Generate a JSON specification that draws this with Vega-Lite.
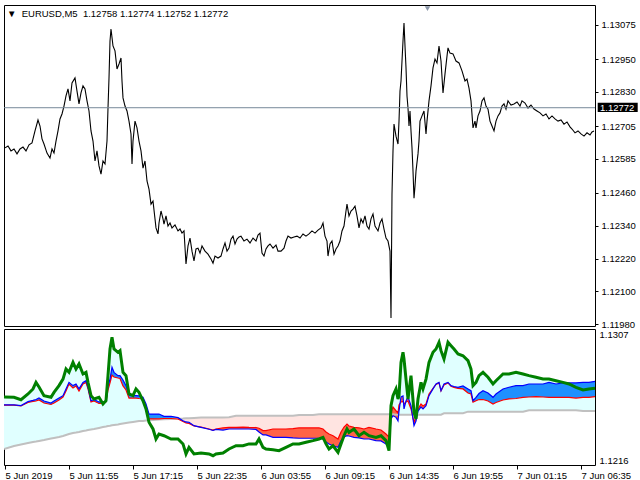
{
"$schema": "https://vega.github.io/schema/vega-lite/v6.json",
"background": "white",
"padding": {"left": 3, "top": 4, "right": 0, "bottom": 0},
"spacing": 3,
"bounds": "flush",
"config": {
  "view": {"stroke": "black", "strokeWidth": 1},
  "font": "Liberation Sans",
  "axis": {"labelFont": "Liberation Sans", "labelFontSize": 9.5, "labelColor": "black", "grid": false, "domain": false, "tickColor": "black", "labelOverlap": false}
},
"datasets": {
"bid": [{"p": 1.12772}],
"price": [
{"i":0,"p":1.12625},{"i":3,"p":1.12632},{"i":6,"p":1.12614},{"i":9,"p":1.12621},{"i":12,"p":1.12603},{"i":15,"p":1.12621},{"i":18,"p":1.12628},{"i":21,"p":1.12614},{"i":24,"p":1.12636},{"i":27,"p":1.12643},
{"i":30,"p":1.12687},{"i":33,"p":1.12727},{"i":35,"p":1.12705},{"i":37,"p":1.12658},{"i":39,"p":1.12639},{"i":42,"p":1.12606},{"i":45,"p":1.12588},{"i":47,"p":1.12621},{"i":49,"p":1.12606},{"i":51,"p":1.1265},
{"i":53,"p":1.12687},{"i":55,"p":1.12731},{"i":57,"p":1.12749},{"i":59,"p":1.12778},{"i":61,"p":1.12815},{"i":63,"p":1.12841},{"i":65,"p":1.12797},{"i":67,"p":1.12863},{"i":70,"p":1.12881},{"i":72,"p":1.12833},
{"i":74,"p":1.12786},{"i":76,"p":1.12826},{"i":78,"p":1.12852},{"i":80,"p":1.12841},{"i":82,"p":1.12797},{"i":84,"p":1.1276},{"i":86,"p":1.12687},{"i":88,"p":1.1265},{"i":90,"p":1.12577},{"i":92,"p":1.12614},
{"i":94,"p":1.12559},{"i":96,"p":1.12529},{"i":98,"p":1.12577},{"i":100,"p":1.12566},{"i":102,"p":1.1265},{"i":103,"p":1.12771},{"i":104,"p":1.12881},{"i":105,"p":1.13016},{"i":106,"p":1.1306},{"i":108,"p":1.12998},
{"i":110,"p":1.1298},{"i":112,"p":1.12914},{"i":114,"p":1.12932},{"i":116,"p":1.12954},{"i":117,"p":1.1287},{"i":118,"p":1.12808},{"i":120,"p":1.12778},{"i":122,"p":1.1276},{"i":124,"p":1.12723},{"i":126,"p":1.12676},
{"i":127,"p":1.12566},{"i":128,"p":1.1265},{"i":130,"p":1.12723},{"i":132,"p":1.12698},{"i":134,"p":1.1265},{"i":136,"p":1.12614},{"i":138,"p":1.12551},{"i":140,"p":1.12577},{"i":142,"p":1.12504},{"i":144,"p":1.12474},
{"i":146,"p":1.12419},{"i":148,"p":1.1243},{"i":150,"p":1.12365},{"i":151,"p":1.12332},{"i":153,"p":1.1231},{"i":154,"p":1.1235},{"i":156,"p":1.12394},{"i":158,"p":1.12365},{"i":159,"p":1.12346},{"i":161,"p":1.12376},
{"i":163,"p":1.12339},{"i":165,"p":1.1235},{"i":167,"p":1.12332},{"i":170,"p":1.12343},{"i":173,"p":1.12321},{"i":175,"p":1.12328},{"i":177,"p":1.12313},{"i":179,"p":1.12321},{"i":181,"p":1.122},{"i":183,"p":1.12266},
{"i":185,"p":1.12295},{"i":187,"p":1.12247},{"i":189,"p":1.12211},{"i":191,"p":1.12255},{"i":193,"p":1.12258},{"i":195,"p":1.1224},{"i":197,"p":1.12266},{"i":200,"p":1.12247},{"i":203,"p":1.12236},{"i":206,"p":1.12218},
{"i":208,"p":1.12203},{"i":210,"p":1.12229},{"i":213,"p":1.12222},{"i":216,"p":1.12229},{"i":218,"p":1.12255},{"i":220,"p":1.12277},{"i":222,"p":1.12247},{"i":224,"p":1.12258},{"i":226,"p":1.12291},{"i":228,"p":1.12302},
{"i":230,"p":1.12273},{"i":232,"p":1.12291},{"i":234,"p":1.12299},{"i":236,"p":1.12302},{"i":239,"p":1.12284},{"i":242,"p":1.12291},{"i":245,"p":1.12277},{"i":248,"p":1.12295},{"i":251,"p":1.12284},{"i":253,"p":1.12306},
{"i":255,"p":1.12313},{"i":257,"p":1.1224},{"i":259,"p":1.12229},{"i":261,"p":1.12255},{"i":263,"p":1.12266},{"i":265,"p":1.12273},{"i":268,"p":1.12258},{"i":271,"p":1.12269},{"i":273,"p":1.12247},{"i":276,"p":1.12247},
{"i":279,"p":1.12258},{"i":281,"p":1.12284},{"i":283,"p":1.12302},{"i":286,"p":1.12295},{"i":289,"p":1.12299},{"i":292,"p":1.12302},{"i":295,"p":1.12295},{"i":298,"p":1.1231},{"i":301,"p":1.12302},{"i":304,"p":1.1231},
{"i":307,"p":1.12321},{"i":310,"p":1.12313},{"i":313,"p":1.12324},{"i":316,"p":1.12332},{"i":318,"p":1.1235},{"i":320,"p":1.12302},{"i":322,"p":1.12284},{"i":323,"p":1.12229},{"i":325,"p":1.12273},{"i":327,"p":1.12284},
{"i":329,"p":1.12236},{"i":331,"p":1.12255},{"i":333,"p":1.12266},{"i":335,"p":1.12284},{"i":337,"p":1.12321},{"i":339,"p":1.12339},{"i":341,"p":1.12394},{"i":342,"p":1.12419},{"i":344,"p":1.12376},{"i":346,"p":1.12394},
{"i":348,"p":1.12401},{"i":350,"p":1.12412},{"i":352,"p":1.12376},{"i":354,"p":1.12332},{"i":356,"p":1.12365},{"i":358,"p":1.1235},{"i":360,"p":1.12376},{"i":362,"p":1.12339},{"i":364,"p":1.12328},{"i":366,"p":1.12365},
{"i":368,"p":1.12383},{"i":370,"p":1.12339},{"i":373,"p":1.12321},{"i":375,"p":1.1235},{"i":377,"p":1.12365},{"i":379,"p":1.12328},{"i":381,"p":1.12295},{"i":383,"p":1.12284},{"i":385,"p":1.12247},{"i":386,"p":1.12002},
{"i":387,"p":1.12456},{"i":388,"p":1.12614},{"i":389,"p":1.12712},{"i":391,"p":1.12668},{"i":393,"p":1.12639},{"i":394,"p":1.12723},{"i":395,"p":1.12833},{"i":396,"p":1.1287},{"i":397,"p":1.12943},{"i":398,"p":1.13016},
{"i":399,"p":1.13082},{"i":400,"p":1.12998},{"i":401,"p":1.12918},{"i":402,"p":1.12815},{"i":403,"p":1.12771},{"i":404,"p":1.12705},{"i":405,"p":1.1276},{"i":406,"p":1.12687},{"i":407,"p":1.12625},{"i":408,"p":1.1254},
{"i":409,"p":1.12441},{"i":410,"p":1.12485},{"i":411,"p":1.1254},{"i":413,"p":1.12603},{"i":414,"p":1.1265},{"i":415,"p":1.12723},{"i":417,"p":1.12742},{"i":419,"p":1.1276},{"i":421,"p":1.12676},{"i":422,"p":1.12723},
{"i":424,"p":1.12797},{"i":426,"p":1.12852},{"i":428,"p":1.12918},{"i":430,"p":1.1295},{"i":432,"p":1.12936},{"i":434,"p":1.12998},{"i":436,"p":1.12943},{"i":438,"p":1.12826},{"i":440,"p":1.12896},{"i":442,"p":1.12961},
{"i":443,"p":1.12991},{"i":445,"p":1.12972},{"i":448,"p":1.12969},{"i":451,"p":1.12943},{"i":454,"p":1.12936},{"i":457,"p":1.12907},{"i":460,"p":1.1287},{"i":462,"p":1.12877},{"i":464,"p":1.12844},{"i":466,"p":1.12797},
{"i":468,"p":1.12698},{"i":470,"p":1.12723},{"i":471,"p":1.12698},{"i":473,"p":1.12742},{"i":475,"p":1.1276},{"i":477,"p":1.12797},{"i":479,"p":1.12808},{"i":481,"p":1.12778},{"i":483,"p":1.12767},{"i":485,"p":1.12723},
{"i":487,"p":1.12705},{"i":489,"p":1.12687},{"i":491,"p":1.12723},{"i":493,"p":1.12742},{"i":495,"p":1.12753},{"i":497,"p":1.12778},{"i":499,"p":1.12786},{"i":501,"p":1.12767},{"i":503,"p":1.12797},{"i":506,"p":1.12782},
{"i":509,"p":1.12786},{"i":512,"p":1.12793},{"i":515,"p":1.12778},{"i":517,"p":1.12797},{"i":520,"p":1.12789},{"i":523,"p":1.12771},{"i":526,"p":1.12782},{"i":529,"p":1.12767},{"i":532,"p":1.1276},{"i":535,"p":1.12753},
{"i":538,"p":1.12742},{"i":541,"p":1.12749},{"i":544,"p":1.12731},{"i":547,"p":1.12742},{"i":550,"p":1.12731},{"i":553,"p":1.12723},{"i":556,"p":1.12727},{"i":559,"p":1.12712},{"i":562,"p":1.1272},{"i":565,"p":1.12702},
{"i":567,"p":1.12694},{"i":570,"p":1.1268},{"i":573,"p":1.12687},{"i":576,"p":1.12676},{"i":579,"p":1.12668},{"i":582,"p":1.1268},{"i":585,"p":1.12672},{"i":587,"p":1.12683},{"i":589,"p":1.12687}
],
"ind": [
{"i":-1,"g":1.12615,"b":1.12562,"r":1.1256,"s":1.12267,"cz":"C1","bz":"B1"},
{"i":9,"g":1.12613,"b":1.12562,"r":1.1256,"s":1.12287,"cz":"C1","bz":"B1"},
{"i":16,"g":1.12597,"b":1.12558,"r":1.12555,"s":1.12297,"cz":"C1","bz":"B1"},
{"i":23,"g":1.12635,"b":1.12584,"r":1.12578,"s":1.12307,"cz":"C1","bz":"B1"},
{"i":28,"g":1.12669,"b":1.12592,"r":1.12585,"s":1.12314,"cz":"C1","bz":"B1"},
{"i":31,"g":1.12713,"b":1.12598,"r":1.12588,"s":1.12317,"cz":"C1","bz":"B1"},
{"i":34,"g":1.12682,"b":1.12608,"r":1.12595,"s":1.12321,"cz":"C1","bz":"B1"},
{"i":39,"g":1.12624,"b":1.12588,"r":1.12575,"s":1.12327,"cz":"C1","bz":"B1"},
{"i":46,"g":1.12613,"b":1.12575,"r":1.12565,"s":1.12337,"cz":"C1","bz":"B1"},
{"i":49,"g":1.12646,"b":1.12588,"r":1.12575,"s":1.12341,"cz":"C1","bz":"B1"},
{"i":54,"g":1.12691,"b":1.12608,"r":1.12595,"s":1.12347,"cz":"C1","bz":"B1"},
{"i":58,"g":1.12735,"b":1.12624,"r":1.12615,"s":1.12354,"cz":"C1","bz":"B1"},
{"i":61,"g":1.12802,"b":1.12669,"r":1.12655,"s":1.12361,"cz":"C1","bz":"B1"},
{"i":64,"g":1.1278,"b":1.12713,"r":1.12702,"s":1.12367,"cz":"C1","bz":"B1"},
{"i":68,"g":1.12847,"b":1.12691,"r":1.12675,"s":1.12374,"cz":"C1","bz":"B1"},
{"i":71,"g":1.12802,"b":1.12702,"r":1.12689,"s":1.12377,"cz":"C1","bz":"B1"},
{"i":74,"g":1.12836,"b":1.12669,"r":1.12655,"s":1.12381,"cz":"C1","bz":"B1"},
{"i":78,"g":1.12769,"b":1.12713,"r":1.12702,"s":1.12388,"cz":"C1","bz":"B1"},
{"i":81,"g":1.1278,"b":1.12724,"r":1.12712,"s":1.12391,"cz":"C1","bz":"B1"},
{"i":83,"g":1.12713,"b":1.1268,"r":1.12669,"s":1.12394,"cz":"C1","bz":"B1"},
{"i":86,"g":1.12624,"b":1.1259,"r":1.12582,"s":1.12398,"cz":"C1","bz":"B1"},
{"i":89,"g":1.12602,"b":1.12598,"r":1.12588,"s":1.12401,"cz":"C1","bz":"B1"},
{"i":94,"g":1.12613,"b":1.12582,"r":1.12572,"s":1.12408,"cz":"C1","bz":"B1"},
{"i":98,"g":1.12568,"b":1.1258,"r":1.12572,"s":1.12414,"cz":"C1","bz":"B1"},
{"i":101,"g":1.1259,"b":1.1259,"r":1.12582,"s":1.12418,"cz":"C1","bz":"B1"},
{"i":103,"g":1.12758,"b":1.12689,"r":1.12662,"s":1.12421,"cz":"C1","bz":"B1"},
{"i":105,"g":1.12936,"b":1.12735,"r":1.12709,"s":1.12423,"cz":"C1","bz":"B1"},
{"i":107,"g":1.13015,"b":1.12814,"r":1.12762,"s":1.12426,"cz":"C1","bz":"B1"},
{"i":109,"g":1.12936,"b":1.1278,"r":1.12749,"s":1.12428,"cz":"C1","bz":"B1"},
{"i":113,"g":1.12914,"b":1.12758,"r":1.12742,"s":1.12431,"cz":"C1","bz":"B1"},
{"i":115,"g":1.12925,"b":1.12758,"r":1.12739,"s":1.12434,"cz":"C1","bz":"B1"},
{"i":118,"g":1.1278,"b":1.12729,"r":1.12689,"s":1.12438,"cz":"C1","bz":"B1"},
{"i":121,"g":1.12758,"b":1.12691,"r":1.12662,"s":1.12441,"cz":"C1","bz":"B1"},
{"i":124,"g":1.12635,"b":1.12628,"r":1.12608,"s":1.12444,"cz":"C1","bz":"B1"},
{"i":128,"g":1.12624,"b":1.12624,"r":1.12608,"s":1.12448,"cz":"C1","bz":"B1"},
{"i":131,"g":1.12669,"b":1.12624,"r":1.12608,"s":1.12451,"cz":"C1","bz":"B1"},
{"i":134,"g":1.12646,"b":1.12622,"r":1.12605,"s":1.12454,"cz":"C1","bz":"B1"},
{"i":138,"g":1.1259,"b":1.12613,"r":1.12602,"s":1.12454,"cz":"C1","bz":"B1"},
{"i":141,"g":1.12535,"b":1.12568,"r":1.12541,"s":1.12458,"cz":"C1","bz":"B1"},
{"i":144,"g":1.12446,"b":1.12501,"r":1.12468,"s":1.12459,"cz":"C1","pz":"P1","bz":"B1"},
{"i":148,"g":1.12401,"b":1.12501,"r":1.12468,"s":1.12461,"pz":"P1","bz":"B1"},
{"i":151,"g":1.12334,"b":1.12501,"r":1.12468,"s":1.12463,"pz":"P1","bz":"B1"},
{"i":154,"g":1.12367,"b":1.12501,"r":1.12468,"s":1.12465,"pz":"P1","bz":"B1"},
{"i":159,"g":1.12356,"b":1.12486,"r":1.12471,"s":1.12466,"pz":"P1","bz":"B1"},
{"i":166,"g":1.12334,"b":1.12486,"r":1.12471,"s":1.12468,"pz":"P1","bz":"B1"},
{"i":173,"g":1.12334,"b":1.12477,"r":1.12468,"s":1.1247,"pz":"P1","bz":"B1"},
{"i":178,"g":1.12301,"b":1.12456,"r":1.12451,"s":1.12471,"pz":"P1","bz":"B1"},
{"i":181,"g":1.12234,"b":1.12448,"r":1.12441,"s":1.12473,"pz":"P1","bz":"B1"},
{"i":184,"g":1.12278,"b":1.12446,"r":1.12438,"s":1.12473,"pz":"P1","bz":"B1"},
{"i":189,"g":1.12234,"b":1.12423,"r":1.12421,"s":1.12475,"pz":"P1","bz":"B1","rz":"R1"},
{"i":196,"g":1.1224,"b":1.12412,"r":1.12414,"s":1.12477,"pz":"P1","rz":"R1"},
{"i":204,"g":1.12234,"b":1.12399,"r":1.12401,"s":1.12478,"pz":"P1","rz":"R1"},
{"i":208,"g":1.12222,"b":1.12391,"r":1.12394,"s":1.12478,"pz":"P1","rz":"R1"},
{"i":211,"g":1.12234,"b":1.12398,"r":1.12401,"s":1.12478,"pz":"P1","rz":"R1"},
{"i":218,"g":1.1224,"b":1.12394,"r":1.12408,"s":1.12478,"pz":"P1","rz":"R1"},
{"i":224,"g":1.12267,"b":1.12401,"r":1.12412,"s":1.12479,"pz":"P1","rz":"R1"},
{"i":231,"g":1.12289,"b":1.12401,"r":1.12412,"s":1.1249,"pz":"P1","rz":"R1"},
{"i":238,"g":1.12289,"b":1.12401,"r":1.12414,"s":1.1249,"pz":"P1","rz":"R1"},
{"i":244,"g":1.12301,"b":1.12401,"r":1.12412,"s":1.1249,"pz":"P1","rz":"R1"},
{"i":251,"g":1.12301,"b":1.12398,"r":1.12411,"s":1.1249,"pz":"P1","rz":"R1"},
{"i":254,"g":1.12334,"b":1.12381,"r":1.12406,"s":1.1249,"pz":"P1","rz":"R1"},
{"i":258,"g":1.12278,"b":1.12361,"r":1.1239,"s":1.1249,"pz":"P1","rz":"R1"},
{"i":261,"g":1.12267,"b":1.12361,"r":1.1239,"s":1.1249,"pz":"P1","rz":"R1"},
{"i":268,"g":1.12262,"b":1.12345,"r":1.12401,"s":1.1249,"pz":"P1","rz":"R1"},
{"i":274,"g":1.12256,"b":1.12345,"r":1.12401,"s":1.1249,"pz":"P1","rz":"R1"},
{"i":281,"g":1.12278,"b":1.12345,"r":1.12401,"s":1.1249,"pz":"P1","rz":"R1"},
{"i":288,"g":1.12301,"b":1.12341,"r":1.12404,"s":1.1249,"pz":"P1","rz":"R1"},
{"i":294,"g":1.12301,"b":1.12339,"r":1.12408,"s":1.12495,"pz":"P1","rz":"R1"},
{"i":301,"g":1.12312,"b":1.12339,"r":1.12408,"s":1.12495,"pz":"P1","rz":"R1"},
{"i":308,"g":1.12323,"b":1.12339,"r":1.12408,"s":1.12495,"pz":"P1","rz":"R1"},
{"i":314,"g":1.12334,"b":1.12339,"r":1.12408,"s":1.12499,"pz":"P1","rz":"R1"},
{"i":318,"g":1.12345,"b":1.12334,"r":1.12401,"s":1.12499,"pz":"P1","rz":"R1"},
{"i":321,"g":1.12301,"b":1.12314,"r":1.12381,"s":1.12499,"pz":"P1","rz":"R1"},
{"i":324,"g":1.12267,"b":1.12301,"r":1.12367,"s":1.12499,"pz":"P1","rz":"R1"},
{"i":328,"g":1.12289,"b":1.12289,"r":1.12356,"s":1.12499,"pz":"P1","rz":"R1"},
{"i":333,"g":1.12245,"b":1.12278,"r":1.12334,"s":1.12499,"pz":"P1","rz":"R1"},
{"i":336,"g":1.12301,"b":1.12321,"r":1.12381,"s":1.12499,"pz":"P1","rz":"R1"},
{"i":339,"g":1.12356,"b":1.12347,"r":1.12414,"s":1.12499,"pz":"P1","rz":"R1"},
{"i":342,"g":1.12401,"b":1.12356,"r":1.12434,"s":1.12499,"pz":"P1","rz":"R1"},
{"i":344,"g":1.12379,"b":1.12354,"r":1.12421,"s":1.12499,"pz":"P1","rz":"R1"},
{"i":349,"g":1.12401,"b":1.12345,"r":1.12412,"s":1.12499,"pz":"P1","rz":"R1"},
{"i":354,"g":1.12356,"b":1.12341,"r":1.12408,"s":1.12499,"pz":"P1","rz":"R1"},
{"i":359,"g":1.12379,"b":1.12334,"r":1.12401,"s":1.12499,"pz":"P1","rz":"R1"},
{"i":364,"g":1.12356,"b":1.12334,"r":1.12412,"s":1.12499,"pz":"P1","rz":"R1"},
{"i":371,"g":1.12345,"b":1.12323,"r":1.12401,"s":1.12499,"pz":"P1","rz":"R1"},
{"i":376,"g":1.12356,"b":1.12321,"r":1.12394,"s":1.12499,"pz":"P1","rz":"R1"},
{"i":381,"g":1.12323,"b":1.12301,"r":1.12367,"s":1.12499,"pz":"P1","rz":"R1"},
{"i":384,"g":1.12256,"b":1.12287,"r":1.12347,"s":1.12499,"pz":"P1","rz":"R1"},
{"i":386,"g":1.12557,"b":1.12468,"r":1.12508,"s":1.12499,"pz":"P1","cz":"C2","rz":"R1"},
{"i":388,"g":1.12624,"b":1.1249,"r":1.12548,"s":1.12499,"cz":"C2","rz":"R1"},
{"i":391,"g":1.12669,"b":1.12479,"r":1.12523,"s":1.12497,"cz":"C2","rz":"R1"},
{"i":393,"g":1.12602,"b":1.12456,"r":1.12508,"s":1.12497,"cz":"C2","rz":"R1"},
{"i":394,"g":1.12624,"b":1.12521,"r":1.12562,"s":1.12497,"cz":"C2","rz":"R1"},
{"i":396,"g":1.12847,"b":1.12615,"r":1.12582,"s":1.12497,"cz":"C2","rz":"R1"},
{"i":398,"g":1.12914,"b":1.12622,"r":1.12585,"s":1.12497,"cz":"C2","rz":"R1"},
{"i":399,"g":1.12869,"b":1.12535,"r":1.12568,"s":1.12497,"cz":"C2","rz":"R1"},
{"i":401,"g":1.12735,"b":1.12588,"r":1.12582,"s":1.12497,"cz":"C2","rz":"R1"},
{"i":403,"g":1.12602,"b":1.12615,"r":1.12588,"s":1.12497,"cz":"C2","rz":"R1"},
{"i":406,"g":1.12758,"b":1.12557,"r":1.12535,"s":1.12497,"cz":"C2","rz":"R1"},
{"i":409,"g":1.12513,"b":1.12423,"r":1.12446,"s":1.12497,"cz":"C2","rz":"R1"},
{"i":411,"g":1.12468,"b":1.12454,"r":1.12481,"s":1.12497,"cz":"C2","rz":"R1"},
{"i":413,"g":1.12602,"b":1.12521,"r":1.12535,"s":1.12497,"cz":"C2","rz":"R1"},
{"i":416,"g":1.12713,"b":1.12548,"r":1.12568,"s":1.12497,"cz":"C2","rz":"R1"},
{"i":418,"g":1.12669,"b":1.12535,"r":1.12555,"s":1.12497,"cz":"C2","rz":"R1"},
{"i":421,"g":1.12735,"b":1.12557,"r":1.12568,"s":1.12497,"cz":"C2","rz":"R1","bz":"B2"},
{"i":424,"g":1.12847,"b":1.12624,"r":1.12635,"s":1.12497,"cz":"C2","bz":"B2"},
{"i":428,"g":1.12914,"b":1.12669,"r":1.12673,"s":1.12497,"cz":"C2","bz":"B2"},
{"i":431,"g":1.12936,"b":1.12702,"r":1.12699,"s":1.12497,"cz":"C2","bz":"B2"},
{"i":434,"g":1.12981,"b":1.12713,"r":1.12709,"s":1.12497,"cz":"C2","bz":"B2"},
{"i":436,"g":1.12925,"b":1.12657,"r":1.12657,"s":1.12497,"cz":"C2","bz":"B2"},
{"i":439,"g":1.12869,"b":1.12702,"r":1.12695,"s":1.12506,"cz":"C2","bz":"B2"},
{"i":443,"g":1.12981,"b":1.12713,"r":1.12709,"s":1.12506,"cz":"C2","bz":"B2"},
{"i":446,"g":1.12958,"b":1.12691,"r":1.12687,"s":1.12506,"cz":"C2","bz":"B2"},
{"i":449,"g":1.12936,"b":1.12685,"r":1.12679,"s":1.12506,"cz":"C2","bz":"B2"},
{"i":453,"g":1.12903,"b":1.1268,"r":1.12673,"s":1.12506,"cz":"C2","bz":"B2"},
{"i":458,"g":1.12891,"b":1.12689,"r":1.12669,"s":1.12506,"cz":"C2","bz":"B2"},
{"i":463,"g":1.12858,"b":1.12669,"r":1.12642,"s":1.12517,"cz":"C2","bz":"B2"},
{"i":466,"g":1.12802,"b":1.12657,"r":1.12635,"s":1.12517,"cz":"C2","bz":"B2"},
{"i":468,"g":1.12691,"b":1.1259,"r":1.1258,"s":1.12517,"cz":"C2","bz":"B2"},
{"i":471,"g":1.12713,"b":1.12613,"r":1.1259,"s":1.12517,"cz":"C2","bz":"B2"},
{"i":474,"g":1.12758,"b":1.12638,"r":1.12598,"s":1.12517,"cz":"C2","bz":"B2"},
{"i":478,"g":1.1278,"b":1.12657,"r":1.12598,"s":1.12517,"cz":"C2","bz":"B2"},
{"i":483,"g":1.12747,"b":1.12642,"r":1.12588,"s":1.12517,"cz":"C2","bz":"B2"},
{"i":488,"g":1.12702,"b":1.12613,"r":1.12568,"s":1.12517,"cz":"C2","bz":"B2"},
{"i":491,"g":1.12724,"b":1.12635,"r":1.12578,"s":1.12517,"cz":"C2","bz":"B2"},
{"i":498,"g":1.12769,"b":1.12669,"r":1.12595,"s":1.12517,"cz":"C2","bz":"B2"},
{"i":504,"g":1.12769,"b":1.1268,"r":1.12602,"s":1.12517,"cz":"C2","bz":"B2"},
{"i":511,"g":1.1278,"b":1.12691,"r":1.12605,"s":1.12517,"cz":"C2","bz":"B2"},
{"i":518,"g":1.12769,"b":1.12691,"r":1.12613,"s":1.12517,"cz":"C2","bz":"B2"},
{"i":524,"g":1.12758,"b":1.12702,"r":1.12615,"s":1.12526,"cz":"C2","bz":"B2"},
{"i":531,"g":1.12747,"b":1.12702,"r":1.12617,"s":1.12526,"cz":"C2","bz":"B2"},
{"i":538,"g":1.12735,"b":1.12702,"r":1.12615,"s":1.12526,"cz":"C2","bz":"B2"},
{"i":544,"g":1.12735,"b":1.12713,"r":1.12613,"s":1.12526,"cz":"C2","bz":"B2"},
{"i":551,"g":1.12724,"b":1.12702,"r":1.12613,"s":1.12526,"cz":"C2","bz":"B2"},
{"i":558,"g":1.12713,"b":1.12709,"r":1.12613,"s":1.12526,"cz":"C2","bz":"B2"},
{"i":564,"g":1.12702,"b":1.12709,"r":1.12612,"s":1.12526,"cz":"C2","bz":"B2"},
{"i":571,"g":1.1268,"b":1.12709,"r":1.12608,"s":1.12526,"cz":"C2","bz":"B2"},
{"i":578,"g":1.12662,"b":1.12713,"r":1.12612,"s":1.12521,"cz":"C2","bz":"B2"},
{"i":584,"g":1.12669,"b":1.12713,"r":1.12613,"s":1.12521,"cz":"C2","bz":"B2"},
{"i":590,"g":1.12673,"b":1.1272,"r":1.12617,"s":1.12521,"cz":"C2","bz":"B2"}
]
},
"vconcat": [
{
  "width": 591,
  "height": 321,
  "layer": [
    {
      "data": {"name": "price"},
      "mark": {"type": "line", "color": "black", "strokeWidth": 1.1, "clip": true},
      "encoding": {
        "x": {"field": "i", "type": "quantitative", "scale": {"domain": [-1, 590], "nice": false, "zero": false}, "axis": null},
        "y": {"field": "p", "type": "quantitative", "title": null, "scale": {"domain": [1.11973, 1.13148], "nice": false, "zero": false},
              "axis": {"orient": "right", "values": [1.13075, 1.1295, 1.1283, 1.12705, 1.12585, 1.1246, 1.1234, 1.1222, 1.121, 1.1198], "tickCount": 30, "format": ".5f", "tickSize": 3, "labelPadding": 3, "labelOverlap": false, "labelFlush": false}}
      }
    },
    {
      "data": {"name": "bid"},
      "mark": {"type": "rule", "color": "#778899", "strokeWidth": 1},
      "encoding": {"y": {"field": "p", "type": "quantitative", "title": null}}
    },
    {
      "data": {"name": "bid"},
      "mark": {"type": "rect", "color": "black"},
      "encoding": {
        "x": {"datum": 592.7, "type": "quantitative", "axis": null},
        "x2": {"datum": 632.7},
        "y": {"datum": 1.1279, "type": "quantitative"},
        "y2": {"datum": 1.12756}
      }
    },
    {
      "data": {"name": "bid"},
      "mark": {"type": "text", "color": "white", "align": "left", "baseline": "middle", "fontSize": 9.5, "font": "Liberation Sans"},
      "encoding": {
        "x": {"datum": 595, "type": "quantitative", "axis": null},
        "y": {"field": "p", "type": "quantitative", "title": null},
        "text": {"field": "p", "type": "quantitative", "format": ".5f"}
      }
    },
    {
      "data": {"name": "bid"},
      "mark": {"type": "text", "color": "black", "align": "left", "baseline": "middle", "fontSize": 9.5, "font": "Liberation Sans", "text": "▼\u00a0\u00a0EURUSD,M5\u00a0\u00a01.12758 1.12774 1.12752 1.12772"},
      "encoding": {
        "x": {"datum": 2, "type": "quantitative", "axis": null},
        "y": {"datum": 1.13115, "type": "quantitative"}
      }
    },
    {
      "data": {"name": "bid"},
      "mark": {"type": "point", "shape": "triangle-down", "filled": true, "color": "#8a96a8", "size": 30, "opacity": 1},
      "encoding": {
        "x": {"datum": 422.5, "type": "quantitative", "axis": null},
        "y": {"datum": 1.13135, "type": "quantitative"}
      }
    }
  ]
},
{
  "width": 591,
  "height": 136,
  "data": {"name": "ind"},
  "encoding": {
    "x": {"field": "i", "type": "quantitative", "scale": {"domain": [-1, 590], "nice": false, "zero": false},
          "axis": {"orient": "bottom", "values": [0, 64, 128, 192, 256, 320, 384, 448, 512, 576], "tickCount": 30, "tickSize": 4, "labelAlign": "left", "labelBaseline": "top", "labelPadding": 1, "labelFlush": false, "labelOverlap": false, "title": null,
                   "labelExpr": "datum.value == 0 ? '5 Jun 2019' : timeFormat(datetime(2019, 5, 5, 6, 35 + datum.value * 5), '%-d %b %H:%M')"}}
  },
  "layer": [
    {
      "transform": [{"filter": "datum.cz"}],
      "mark": {"type": "area", "color": "#E0FFFF", "opacity": 1, "clip": true},
      "encoding": {
        "y": {"field": "g", "type": "quantitative", "title": null, "scale": {"domain": [1.1216, 1.1307], "nice": false, "zero": false},
              "axis": {"orient": "right", "values": [1.1216, 1.1307], "format": ".4f", "ticks": false, "labelPadding": 4, "labelFlush": true, "labelOverlap": false}},
        "y2": {"field": "s"},
        "detail": {"field": "cz"}
      }
    },
    {
      "transform": [{"filter": "datum.pz"}],
      "mark": {"type": "area", "color": "#FFE4E1", "opacity": 1, "clip": true},
      "encoding": {
        "y": {"field": "s", "type": "quantitative", "title": null},
        "y2": {"field": "r"},
        "detail": {"field": "pz"}
      }
    },
    {
      "transform": [{"filter": "datum.bz"}],
      "mark": {"type": "area", "color": "#1E90FF", "opacity": 1, "clip": true},
      "encoding": {
        "y": {"field": "b", "type": "quantitative", "title": null},
        "y2": {"field": "r"},
        "detail": {"field": "bz"}
      }
    },
    {
      "transform": [{"filter": "datum.rz"}],
      "mark": {"type": "area", "color": "#FF6347", "opacity": 1, "clip": true},
      "encoding": {
        "y": {"field": "r", "type": "quantitative", "title": null},
        "y2": {"field": "b"},
        "detail": {"field": "rz"}
      }
    },
    {
      "mark": {"type": "line", "color": "#C0C0C0", "strokeWidth": 2, "clip": true},
      "encoding": {"y": {"field": "s", "type": "quantitative", "title": null}}
    },
    {
      "mark": {"type": "line", "color": "#FF0000", "strokeWidth": 1.2, "clip": true},
      "encoding": {"y": {"field": "r", "type": "quantitative", "title": null}}
    },
    {
      "mark": {"type": "line", "color": "#0000FF", "strokeWidth": 1.2, "clip": true},
      "encoding": {"y": {"field": "b", "type": "quantitative", "title": null}}
    },
    {
      "mark": {"type": "line", "color": "#008000", "strokeWidth": 3, "clip": true},
      "encoding": {"y": {"field": "g", "type": "quantitative", "title": null}}
    },
    {
      "data": {"name": "bid"},
      "mark": {"type": "text", "color": "black", "align": "left", "baseline": "middle", "fontSize": 9.5, "font": "Liberation Sans", "text": "Detect"},
      "encoding": {
        "x": {"datum": 2, "type": "quantitative"},
        "y": {"datum": 1.13003, "type": "quantitative"}
      }
    }
  ]
}
]
}
